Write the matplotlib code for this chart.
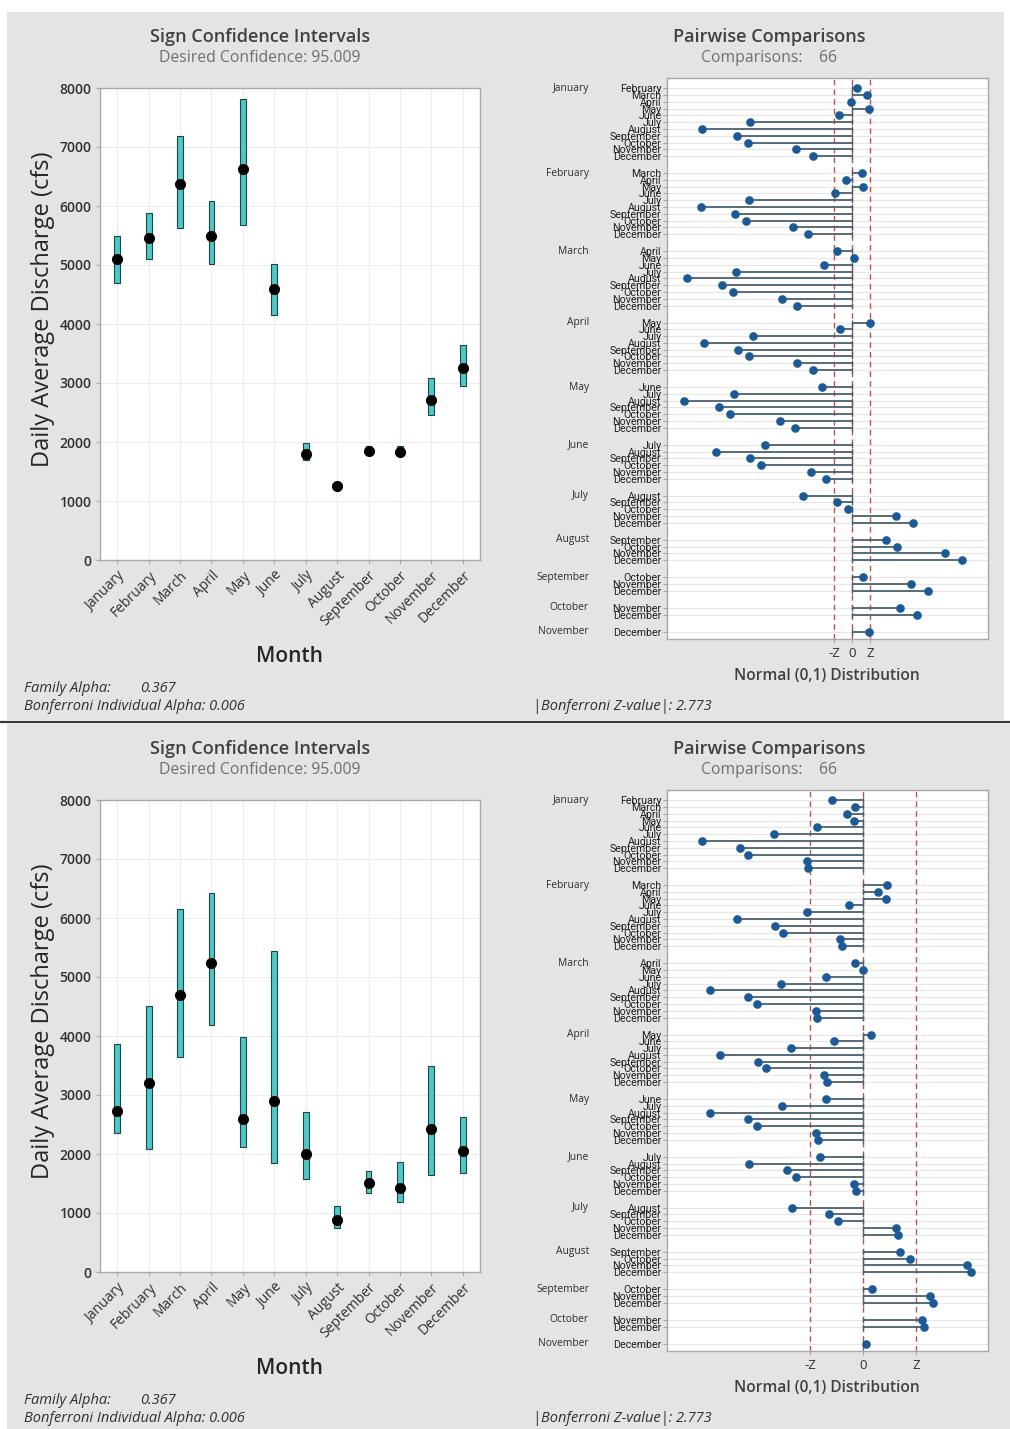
import numpy as np
import matplotlib
matplotlib.use("Agg")
import matplotlib.pyplot as plt
import matplotlib.transforms as mtransforms
from matplotlib.patches import Rectangle
from matplotlib.lines import Line2D

plt.rcParams['font.family'] = ['Open Sans', 'DejaVu Sans']

months = ['January', 'February', 'March', 'April', 'May', 'June', 'July',
          'August', 'September', 'October', 'November', 'December']

# sign confidence intervals (cfs), upper chart
med_1 = [5100, 5460, 6370, 5500, 6620, 4590, 1800, 1255, 1850, 1835, 2710, 3250]
lo_1 = [4700, 5110, 5620, 5020, 5670, 4150, 1690, 1225, 1790, 1770, 2460, 2950]
hi_1 = [5500, 5880, 7180, 6080, 7820, 5010, 1980, 1290, 1940, 1940, 3090, 3650]

# sign confidence intervals (cfs), lower chart
med_2 = [2730, 3200, 4690, 5230, 2590, 2900, 2000, 875, 1505, 1420, 2430, 2050]
lo_2 = [2360, 2090, 3640, 4180, 2120, 1850, 1580, 740, 1335, 1180, 1650, 1675]
hi_2 = [3870, 4510, 6150, 6430, 3990, 5440, 2720, 1120, 1710, 1860, 3490, 2630]

# pairwise z statistics, month i vs every later month (66 pairs)
z_1 = [0.67, 2.21, -0.15, 2.57, -2.05, -15.67, -23.1, -17.7, -16.1, -8.6, -6.1,
       1.44, -0.92, 1.69, -2.73, -15.9, -23.3, -18.0, -16.4, -9.1, -6.8,
       -2.41, 0.21, -4.37, -17.9, -25.4, -20.1, -18.4, -10.8, -8.5,
       2.67, -1.9, -15.3, -22.8, -17.6, -15.9, -8.5, -6.0,
       -4.67, -18.2, -25.9, -20.5, -18.8, -11.2, -8.8,
       -13.5, -21.0, -15.8, -14.0, -6.4, -4.06,
       -7.65, -2.41, -0.72, 6.78, 9.34,
       5.13, 6.93, 14.2, 16.8,
       1.59, 9.03, 11.55,
       7.34, 9.95,
       2.51]

z_2 = [-1.66, -0.42, -0.87, -0.47, -2.41, -4.69, -8.46, -6.47, -6.02, -2.93, -2.88,
       1.24, 0.79, 1.17, -0.75, -2.93, -6.63, -4.64, -4.19, -1.20, -1.10,
       -0.42, -0.03, -1.97, -4.31, -8.03, -6.02, -5.58, -2.50, -2.44,
       0.40, -1.55, -3.80, -7.52, -5.53, -5.10, -2.04, -1.92,
       -1.97, -4.26, -8.03, -6.02, -5.58, -2.48, -2.36,
       -2.27, -5.97, -3.98, -3.54, -0.47, -0.38,
       -3.75, -1.82, -1.31, 1.73, 1.83,
       1.94, 2.44, 5.45, 5.62,
       0.45, 3.51, 3.63,
       3.07, 3.18,
       0.12]

z_bonf = 2.773

W, H = 1010, 1429
fig = plt.figure(figsize=(W / 100, H / 100), dpi=100)
fig.patch.set_facecolor('white')

TEAL = '#4cc9c6'
GRAY_BG = '#e4e4e4'
SPINE = '#a8a8a8'
LINE = '#4b6070'
DOT = '#1c5a96'
REF = '#c0504d'
NOTE = dict(fontsize=10.5, style='italic', color='#303030', va='center')


def px_rect(l, t, r, b):
    return [l / W, 1 - b / H, (r - l) / W, (b - t) / H]


def ftext(x, y, s, **kw):
    fig.text(x / W, 1 - y / H, s, **kw)


def style_spines(ax):
    for sp in ax.spines.values():
        sp.set_color(SPINE)
        sp.set_linewidth(1.0)


# gray panel backgrounds and the divider between them
fig.patches.append(Rectangle((7 / W, 1 - 720 / H), (1004 - 7) / W, (720 - 12) / H,
                             transform=fig.transFigure, facecolor=GRAY_BG,
                             edgecolor='none', zorder=-10))
fig.patches.append(Rectangle((7 / W, 0), (W - 7) / W, (H - 724) / H,
                             transform=fig.transFigure, facecolor=GRAY_BG,
                             edgecolor='none', zorder=-10))
fig.lines.append(Line2D([0, 1], [1 - 722 / H] * 2, transform=fig.transFigure,
                        color='#3a3a3a', lw=1.6, zorder=-5))


def draw_panel(dy, lo, med, hi, zvals, zlim):
    # --- sign confidence intervals ---
    ax = fig.add_axes(px_rect(100, 88 + dy, 480, 560 + dy))
    x = np.arange(len(months))
    lo = np.array(lo)
    hi = np.array(hi)
    ax.bar(x, hi - lo, bottom=lo, width=0.19, color=TEAL, edgecolor='#1e4545',
           linewidth=0.8, zorder=3)
    ax.plot(x, med, 'o', color='black', ms=7, zorder=4)
    ax.set_xlim(-0.55, 11.55)
    ax.set_ylim(0, 8000)
    ax.set_yticks(range(0, 8001, 1000))
    ax.set_xticks(x)
    ax.set_xticklabels(months, rotation=45, ha='right', rotation_mode='anchor')
    off = mtransforms.ScaledTranslation(8 / 100, -2 / 100, fig.dpi_scale_trans)
    for lab in ax.get_xticklabels():
        lab.set_transform(lab.get_transform() + off)
    ax.tick_params(axis='both', labelsize=10, colors='#303030', length=3,
                   width=0.8, pad=3)
    ax.tick_params(axis='both', color=SPINE)
    for lab in ax.get_yticklabels():
        lab.set_fontweight('semibold')
    ax.grid(True, color='#ededed', lw=0.8, zorder=0)
    ax.set_axisbelow(True)
    style_spines(ax)
    ftext(43, 309 + dy, 'Daily Average Discharge (cfs)', rotation=90,
          ha='center', va='center', fontsize=17, color='#262626')
    ftext(290, 657 + dy, 'Month', ha='center', va='center', fontsize=15,
          fontweight='semibold', color='#262626')
    ftext(260, 37 + dy, 'Sign Confidence Intervals', ha='center', va='center',
          fontsize=13, fontweight='semibold', color='#404040')
    ftext(260, 58 + dy, 'Desired Confidence: 95.009', ha='center', va='center',
          fontsize=11.3, color='#707070')
    ftext(24, 688 + dy, 'Family Alpha:', ha='left', **NOTE)
    ftext(140, 688 + dy, '0.367', ha='left', **NOTE)
    ftext(24, 707 + dy, 'Bonferroni Individual Alpha: 0.006', ha='left', **NOTE)

    # --- pairwise comparisons ---
    ax2 = fig.add_axes(px_rect(667, 78 + dy, 988, 639 + dy))
    rows, labels, heads = [], [], []
    pos = 0.0
    for i in range(len(months) - 1):
        heads.append((pos, months[i]))
        for j in range(i + 1, len(months)):
            rows.append(pos)
            labels.append(months[j])
            pos += 1
        pos += 1.5
    rows = np.array(rows)
    zvals = np.array(zvals)

    ax2.hlines(rows, 0, zvals, color=LINE, lw=1.3, zorder=3)
    ax2.plot(np.zeros_like(rows), rows, '|', color=LINE, ms=5, mew=1.0, zorder=3)
    ax2.plot(zvals, rows, 'o', color=DOT, ms=5.2, zorder=4)
    for zx in (-z_bonf, 0, z_bonf):
        ax2.axvline(zx, color=REF, lw=1.0, ls=(0, (4, 3)), zorder=2)

    ax2.set_xlim(*zlim)
    ax2.set_ylim(rows[-1] + 1.1, -1.5)
    ax2.set_yticks(rows)
    ax2.set_yticklabels(labels, family=['Roboto', 'DejaVu Sans'], fontsize=7.7)
    ax2.set_xticks([-z_bonf, 0, z_bonf])
    ax2.set_xticklabels(['-Z', '0', 'Z'])
    ax2.tick_params(axis='y', length=3, width=0.8, color=SPINE, pad=1,
                    labelcolor='#1e1e1e')
    ax2.tick_params(axis='x', length=3, width=0.8, color=SPINE, pad=3,
                    labelsize=9.5, labelcolor='#303030')
    ax2.yaxis.grid(True, color='#e6e6e6', lw=0.8, zorder=0)
    ax2.set_axisbelow(True)
    style_spines(ax2)
    for ypos, name in heads:
        ax2.text(-0.243, ypos, name, transform=ax2.get_yaxis_transform(),
                 ha='right', va='center', fontsize=7.4, color='#2e2e2e')

    ftext(827, 676 + dy, 'Normal (0,1) Distribution', ha='center', va='center',
          fontsize=11.2, fontweight='semibold', color='#404040')
    ftext(769, 37 + dy, 'Pairwise Comparisons', ha='center', va='center',
          fontsize=13, fontweight='semibold', color='#404040')
    ftext(769, 58 + dy, 'Comparisons:    66', ha='center', va='center',
          fontsize=11.3, color='#707070')
    ftext(533, 707 + dy, '|Bonferroni Z-value|: 2.773', ha='left', **NOTE)


draw_panel(0, lo_1, med_1, hi_1, z_1, (-28.5, 20.85))
draw_panel(712, lo_2, med_2, hi_2, z_2, (-10.28, 6.53))

fig.savefig('out.png', dpi=100, facecolor=fig.get_facecolor())
